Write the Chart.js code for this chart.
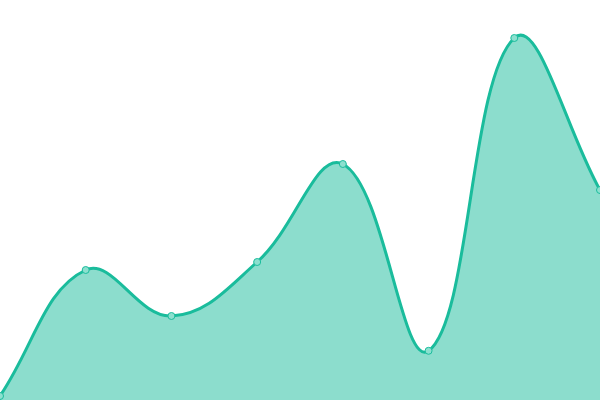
<!DOCTYPE html>
<html>
<head>
<meta charset="utf-8">
<script src="https://cdn.jsdelivr.net/npm/chart.js@4"></script>
<style>
  html, body { margin: 0; padding: 0; background: #fff; }
  #wrap { width: 600px; height: 400px; }
</style>
</head>
<body>
<div id="wrap"><canvas id="myChart"></canvas></div>
<script>
const labels = ['1', '2', '3', '4', '5', '6', '7', '8'];
const values = [1, 32.5, 21, 34.5, 59, 12.3, 90.5, 52.5];

const ctx = document.getElementById('myChart');

new Chart(ctx, {
  type: 'line',
  data: {
    labels: labels,
    datasets: [{
      data: values,
      fill: 'origin',
      tension: 0.4,
      borderColor: '#1abc9c',
      backgroundColor: 'rgba(26,188,156,0.5)',
      borderWidth: 3,
      pointRadius: 3.5,
      pointBorderWidth: 1,
      pointBackgroundColor: '#8ce0cf',
      pointBorderColor: '#1abc9c'
    }]
  },
  options: {
    responsive: true,
    maintainAspectRatio: false,
    animation: false,
    layout: { padding: 0, autoPadding: false },
    scales: {
      x: { display: false, offset: false },
      y: { display: false, min: 0, max: 100 }
    },
    plugins: {
      legend: { display: false },
      tooltip: { enabled: false }
    }
  }
});
</script>
</body>
</html>
